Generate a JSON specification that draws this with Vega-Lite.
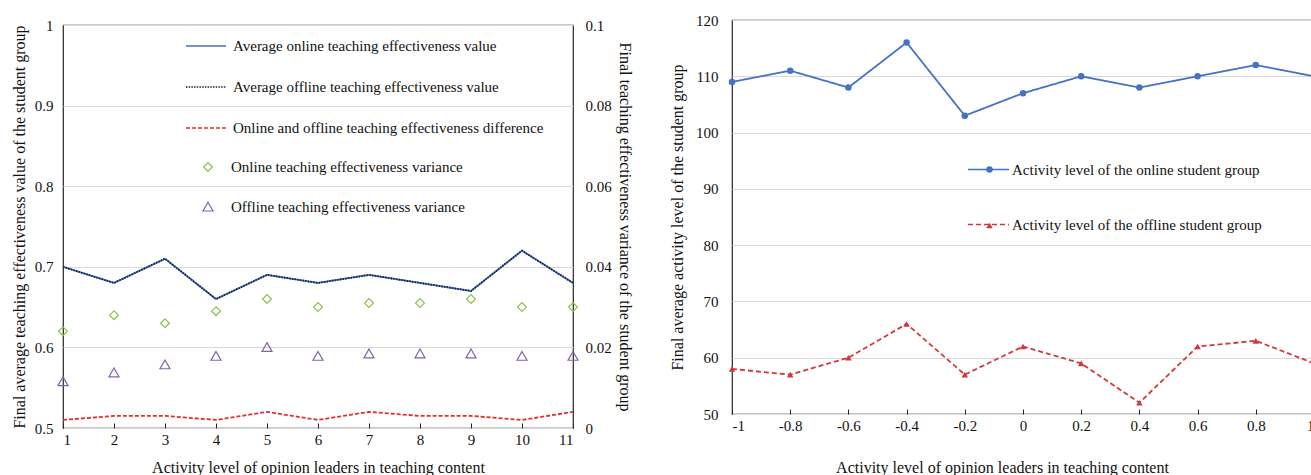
{
  "$schema": "https://vega.github.io/schema/vega-lite/v6.json",
  "background": "white",
  "padding": {"left": 10, "top": 12, "right": 0, "bottom": 0},
  "spacing": 35,
  "config": {
    "font": "Liberation Serif",
    "view": {"stroke": "#262626", "strokeWidth": 1.2},
    "axis": {
      "labelFont": "Liberation Serif", "titleFont": "Liberation Serif",
      "labelFontSize": 15, "titleFontSize": 16, "titleFontWeight": "normal",
      "labelColor": "#111", "titleColor": "#111",
      "domain": false, "ticks": false, "gridColor": "#d9d9d9", "gridWidth": 1.2
    },
    "legend": {"labelFont": "Liberation Serif", "labelFontSize": 15, "labelColor": "#111", "labelLimit": 0}
  },
  "resolve": {"scale": {"color": "independent", "strokeDash": "independent", "shape": "independent", "stroke": "independent", "fill": "independent"}},
  "datasets": {
    "avg": [
      {"x": 1, "series": "Average online teaching effectiveness value", "value": 0.70},
      {"x": 2, "series": "Average online teaching effectiveness value", "value": 0.68},
      {"x": 3, "series": "Average online teaching effectiveness value", "value": 0.71},
      {"x": 4, "series": "Average online teaching effectiveness value", "value": 0.66},
      {"x": 5, "series": "Average online teaching effectiveness value", "value": 0.69},
      {"x": 6, "series": "Average online teaching effectiveness value", "value": 0.68},
      {"x": 7, "series": "Average online teaching effectiveness value", "value": 0.69},
      {"x": 8, "series": "Average online teaching effectiveness value", "value": 0.68},
      {"x": 9, "series": "Average online teaching effectiveness value", "value": 0.67},
      {"x": 10, "series": "Average online teaching effectiveness value", "value": 0.72},
      {"x": 11, "series": "Average online teaching effectiveness value", "value": 0.68},
      {"x": 1, "series": "Average offline teaching effectiveness value", "value": 0.70},
      {"x": 2, "series": "Average offline teaching effectiveness value", "value": 0.68},
      {"x": 3, "series": "Average offline teaching effectiveness value", "value": 0.71},
      {"x": 4, "series": "Average offline teaching effectiveness value", "value": 0.66},
      {"x": 5, "series": "Average offline teaching effectiveness value", "value": 0.69},
      {"x": 6, "series": "Average offline teaching effectiveness value", "value": 0.68},
      {"x": 7, "series": "Average offline teaching effectiveness value", "value": 0.69},
      {"x": 8, "series": "Average offline teaching effectiveness value", "value": 0.68},
      {"x": 9, "series": "Average offline teaching effectiveness value", "value": 0.67},
      {"x": 10, "series": "Average offline teaching effectiveness value", "value": 0.72},
      {"x": 11, "series": "Average offline teaching effectiveness value", "value": 0.68}
    ],
    "diff": [
      {"x": 1, "series": "Online and offline teaching effectiveness difference", "value": 0.002},
      {"x": 2, "series": "Online and offline teaching effectiveness difference", "value": 0.003},
      {"x": 3, "series": "Online and offline teaching effectiveness difference", "value": 0.003},
      {"x": 4, "series": "Online and offline teaching effectiveness difference", "value": 0.002},
      {"x": 5, "series": "Online and offline teaching effectiveness difference", "value": 0.004},
      {"x": 6, "series": "Online and offline teaching effectiveness difference", "value": 0.002},
      {"x": 7, "series": "Online and offline teaching effectiveness difference", "value": 0.004},
      {"x": 8, "series": "Online and offline teaching effectiveness difference", "value": 0.003},
      {"x": 9, "series": "Online and offline teaching effectiveness difference", "value": 0.003},
      {"x": 10, "series": "Online and offline teaching effectiveness difference", "value": 0.002},
      {"x": 11, "series": "Online and offline teaching effectiveness difference", "value": 0.004}
    ],
    "vari": [
      {"x": 1, "marker": "Online teaching effectiveness variance", "value": 0.024},
      {"x": 2, "marker": "Online teaching effectiveness variance", "value": 0.028},
      {"x": 3, "marker": "Online teaching effectiveness variance", "value": 0.026},
      {"x": 4, "marker": "Online teaching effectiveness variance", "value": 0.029},
      {"x": 5, "marker": "Online teaching effectiveness variance", "value": 0.032},
      {"x": 6, "marker": "Online teaching effectiveness variance", "value": 0.030},
      {"x": 7, "marker": "Online teaching effectiveness variance", "value": 0.031},
      {"x": 8, "marker": "Online teaching effectiveness variance", "value": 0.031},
      {"x": 9, "marker": "Online teaching effectiveness variance", "value": 0.032},
      {"x": 10, "marker": "Online teaching effectiveness variance", "value": 0.030},
      {"x": 11, "marker": "Online teaching effectiveness variance", "value": 0.030},
      {"x": 1, "marker": "Offline teaching effectiveness variance", "value": 0.0115},
      {"x": 2, "marker": "Offline teaching effectiveness variance", "value": 0.0137},
      {"x": 3, "marker": "Offline teaching effectiveness variance", "value": 0.0157},
      {"x": 4, "marker": "Offline teaching effectiveness variance", "value": 0.0178},
      {"x": 5, "marker": "Offline teaching effectiveness variance", "value": 0.0200},
      {"x": 6, "marker": "Offline teaching effectiveness variance", "value": 0.0178},
      {"x": 7, "marker": "Offline teaching effectiveness variance", "value": 0.0184},
      {"x": 8, "marker": "Offline teaching effectiveness variance", "value": 0.0184},
      {"x": 9, "marker": "Offline teaching effectiveness variance", "value": 0.0184},
      {"x": 10, "marker": "Offline teaching effectiveness variance", "value": 0.0178},
      {"x": 11, "marker": "Offline teaching effectiveness variance", "value": 0.0178}
    ],
    "act": [
      {"x": -1, "series": "Activity level of the online student group", "value": 109},
      {"x": -0.8, "series": "Activity level of the online student group", "value": 111},
      {"x": -0.6, "series": "Activity level of the online student group", "value": 108},
      {"x": -0.4, "series": "Activity level of the online student group", "value": 116},
      {"x": -0.2, "series": "Activity level of the online student group", "value": 103},
      {"x": 0, "series": "Activity level of the online student group", "value": 107},
      {"x": 0.2, "series": "Activity level of the online student group", "value": 110},
      {"x": 0.4, "series": "Activity level of the online student group", "value": 108},
      {"x": 0.6, "series": "Activity level of the online student group", "value": 110},
      {"x": 0.8, "series": "Activity level of the online student group", "value": 112},
      {"x": 1, "series": "Activity level of the online student group", "value": 110},
      {"x": -1, "series": "Activity level of the offline student group", "value": 58},
      {"x": -0.8, "series": "Activity level of the offline student group", "value": 57},
      {"x": -0.6, "series": "Activity level of the offline student group", "value": 60},
      {"x": -0.4, "series": "Activity level of the offline student group", "value": 66},
      {"x": -0.2, "series": "Activity level of the offline student group", "value": 57},
      {"x": 0, "series": "Activity level of the offline student group", "value": 62},
      {"x": 0.2, "series": "Activity level of the offline student group", "value": 59},
      {"x": 0.4, "series": "Activity level of the offline student group", "value": 52},
      {"x": 0.6, "series": "Activity level of the offline student group", "value": 62},
      {"x": 0.8, "series": "Activity level of the offline student group", "value": 63},
      {"x": 1, "series": "Activity level of the offline student group", "value": 59}
    ]
  },
  "hconcat": [
    {
      "vconcat": [
        {
          "width": 510,
          "height": 1,
          "view": {"stroke": null},
          "data": {"values": []},
          "mark": {"type": "point", "opacity": 0},
          "encoding": {}
        },
        {
          "width": 510,
          "height": 403,
          "layer": [
            {
              "data": {"name": "avg"},
              "mark": {"type": "line", "strokeWidth": 1.8},
              "encoding": {
                "x": {"field": "x", "type": "quantitative", "scale": {"domain": [1, 11], "nice": false},
                      "axis": {"values": [1, 2, 3, 4, 5, 6, 7, 8, 9, 10, 11], "format": "d", "grid": false, "labelPadding": 9, "titlePadding": 12,
                               "ticks": true, "tickSize": -5, "tickColor": "#262626", "tickWidth": 1,
                               "title": "Activity level of opinion leaders in teaching content"}},
                "y": {"field": "value", "type": "quantitative", "scale": {"domain": [0.5, 1], "nice": false, "zero": false},
                      "axis": {"orient": "left", "values": [0.5, 0.6, 0.7, 0.8, 0.9, 1], "format": "~g", "grid": true, "labelPadding": 10, "titlePadding": 7,
                               "title": "Final average teaching effectiveness value of the student group"}},
                "color": {"field": "series", "type": "nominal",
                          "scale": {"domain": ["Average online teaching effectiveness value", "Average offline teaching effectiveness value", "Online and offline teaching effectiveness difference"],
                                    "range": ["#4472C4", "#1B2540", "#E0302E"]},
                          "legend": {"title": null, "orient": "none", "legendX": 122, "legendY": 5, "symbolSize": 1600, "symbolStrokeWidth": 1.6, "labelOffset": 6, "rowPadding": 12}},
                "strokeDash": {"field": "series", "type": "nominal",
                          "scale": {"domain": ["Average online teaching effectiveness value", "Average offline teaching effectiveness value", "Online and offline teaching effectiveness difference"],
                                    "range": [[1, 0], [1.5, 1.2], [4, 2]]}}
              }
            },
            {
              "data": {"name": "diff"},
              "mark": {"type": "line", "strokeWidth": 1.8},
              "encoding": {
                "x": {"field": "x", "type": "quantitative"},
                "y": {"field": "value", "type": "quantitative", "scale": {"domain": [0, 0.1], "nice": false},
                      "axis": {"orient": "right", "values": [0, 0.02, 0.04, 0.06, 0.08, 0.1], "format": "~g", "grid": false, "labelPadding": 12, "titlePadding": 5,
                               "title": "Final teaching effectiveness variance of the student group"}},
                "color": {"field": "series", "type": "nominal"},
                "strokeDash": {"field": "series", "type": "nominal"}
              }
            },
            {
              "data": {"name": "vari"},
              "mark": {"type": "point", "size": 1600, "filled": false, "strokeWidth": 1.2, "opacity": 1},
              "encoding": {
                "x": {"field": "x", "type": "quantitative"},
                "y": {"field": "value", "type": "quantitative", "scale": {"domain": [0, 0.1], "nice": false}, "axis": null},
                "stroke": {"field": "marker", "type": "nominal",
                           "scale": {"domain": ["Online teaching effectiveness variance", "Offline teaching effectiveness variance"], "range": ["#8CC04A", "#8064A2"]},
                           "legend": {"title": null, "orient": "none", "legendX": 124, "legendY": 126, "symbolSize": 1600, "symbolStrokeWidth": 1.2, "labelOffset": 2, "rowPadding": 11}},
                "shape": {"field": "marker", "type": "nominal",
                          "scale": {"domain": ["Online teaching effectiveness variance", "Offline teaching effectiveness variance"],
                                    "range": ["M0,-0.22L0.22,0L0,0.22L-0.22,0Z", "M0,-0.24L0.25,0.2L-0.25,0.2Z"]}}
              }
            }
          ],
          "resolve": {"scale": {"y": "independent"}}
        }
      ],
      "spacing": 4,
      "bounds": "flush"
    },
    {
      "width": 582,
      "height": 394,
      "data": {"name": "act"},
      "layer": [
        {
          "mark": {"type": "line", "strokeWidth": 1.8},
          "encoding": {
            "x": {"field": "x", "type": "quantitative", "scale": {"domain": [-1, 1], "nice": false},
                  "axis": {"values": [-1, -0.8, -0.6, -0.4, -0.2, 0, 0.2, 0.4, 0.6, 0.8, 1], "labelExpr": "toString(datum.value)", "grid": false, "labelPadding": 9, "titlePadding": 26, "titleX": 270,
                           "ticks": true, "tickSize": -5, "tickColor": "#262626", "tickWidth": 1,
                           "title": "Activity level of opinion leaders in teaching content"}},
            "y": {"field": "value", "type": "quantitative", "scale": {"domain": [50, 120], "nice": false, "zero": false},
                  "axis": {"values": [50, 60, 70, 80, 90, 100, 110, 120], "grid": true, "labelPadding": 14, "titlePadding": 10,
                           "title": "Final average activity level of the student group"}},
            "color": {"field": "series", "type": "nominal",
                      "scale": {"domain": ["Activity level of the online student group", "Activity level of the offline student group"], "range": ["#4472C4", "#D2383A"]},
                      "legend": {"title": null, "orient": "none", "legendX": 235, "legendY": 128, "symbolSize": 1681, "symbolStrokeWidth": 1.6, "labelOffset": 2, "rowPadding": 25}},
            "strokeDash": {"field": "series", "type": "nominal",
                      "scale": {"domain": ["Activity level of the online student group", "Activity level of the offline student group"], "range": [[1, 0], [5, 3]]}}
          }
        },
        {
          "mark": {"type": "point", "filled": true, "size": 42, "opacity": 1},
          "encoding": {
            "x": {"field": "x", "type": "quantitative"},
            "y": {"field": "value", "type": "quantitative"},
            "fill": {"field": "series", "type": "nominal",
                      "scale": {"domain": ["Activity level of the offline student group", "Activity level of the online student group"], "range": ["#D2383A", "#4472C4"]},
                      "legend": {"title": null, "orient": "none", "legendX": 250, "legendY": 142, "labelExpr": "''", "symbolSize": 42, "rowPadding": 40,
                                 "values": ["Activity level of the online student group", "Activity level of the offline student group"]}},
            "shape": {"field": "series", "type": "nominal",
                      "scale": {"domain": ["Activity level of the offline student group", "Activity level of the online student group"], "range": ["triangle-up", "circle"]}}
          }
        }
      ]
    }
  ]
}
